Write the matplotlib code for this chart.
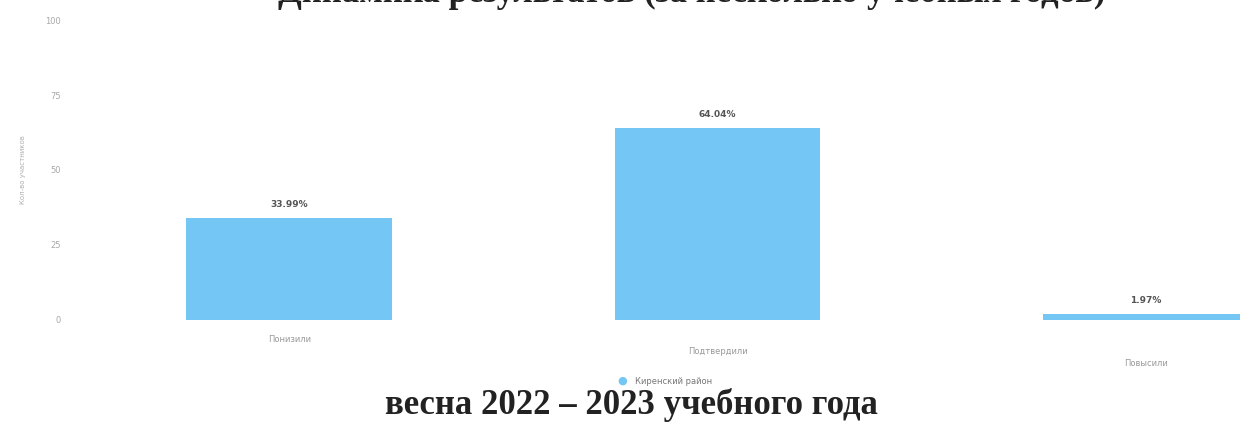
import matplotlib.pyplot as plt
import numpy as np

categories = ["Понизили", "Подтвердили", "Повысили"]
values = [33.99, 64.04, 1.97]
series_name = "Киренский район"
yticks = [0, 25, 50, 75, 100]

bar_color = "#74c6f5"
label_drops = [0, 4, 8]  # category labels sit a bit lower further right (scan skew)

fig = plt.figure(figsize=(12.4, 4.37), dpi=100)
ax = fig.add_axes([0.0605, 0.268, 0.9395, 0.686])

x = np.arange(len(categories))
ax.bar(x, values, width=0.48, color=bar_color, zorder=2)

for xi, v in zip(x, values):
    ax.text(xi, v + 3, "%.2f%%" % v, ha="center", va="bottom",
            fontsize=6.5, color="#555555", fontweight="bold")

for xi, name, d in zip(x, categories, label_drops):
    ax.text(xi, -6.5 - d, name, ha="center", va="center",
            fontsize=6, color="#9a9a9a")

ax.set_xlim(-0.5, 2.22)
ax.set_ylim(0, 100)
ax.set_xticks([])
ax.set_yticks(yticks)
ax.tick_params(axis="y", length=0, labelsize=6, labelcolor="#a8a8a8", pad=10)
ax.set_ylabel("Кол-во участников", fontsize=5, color="#b0b0b0", labelpad=14)
for s in ax.spines.values():
    s.set_visible(False)

# legend
fig.text(0.502, 0.128, "\u25cf", fontsize=8, color=bar_color, ha="center", va="center")
fig.text(0.512, 0.127, series_name, fontsize=6, color="#777777", ha="left", va="center")

# titles from the scanned page (the upper one is cut by the page edge)
fig.text(0.558, 0.996, "Динамика результатов (за несколько учебных годов)",
         fontsize=25, fontweight="bold", family="Liberation Serif", ha="center",
         va="baseline", color="#222222")
fig.text(0.509, 0.073, "весна 2022 – 2023 учебного года", fontsize=25, fontweight="bold",
         family="Liberation Serif", ha="center", va="center", color="#222222")

fig.savefig("out.png", dpi=100)
